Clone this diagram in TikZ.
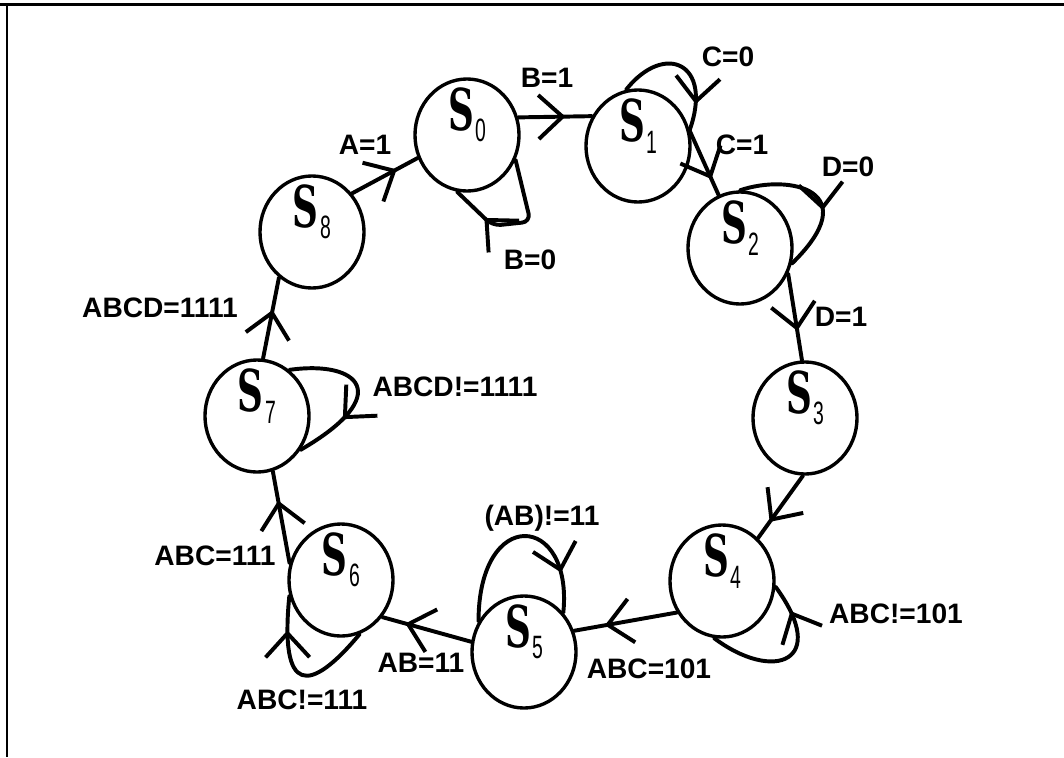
\documentclass[tikz,border=0pt]{standalone}
\usepackage{fontspec}
\usepackage{graphicx}
\newfontfamily\lblfont{Liberation Sans}
\newfontfamily\snfont{DejaVu Serif}
\usetikzlibrary{arrows.meta,decorations.markings,shapes.geometric}
\newcommand{\sname}[1]{{\snfont\bfseries\fontsize{41}{41}\selectfont\scalebox{0.62}[1]{S}}\kern1pt\raisebox{-8pt}{\lblfont\fontsize{23}{23}\selectfont\scalebox{0.6}[1]{#1}}}

\begin{document}
\begin{tikzpicture}[x=0.025cm,y=-0.025cm,
  state/.style={draw,ellipse,line width=2.4pt,minimum width=2.6cm,minimum height=2.8cm,inner sep=0pt},
  slbl/.style={yshift=0.5cm,inner sep=0pt},
  lbl/.style={font=\lblfont\bfseries\fontsize{20}{20}\selectfont,inner sep=0pt},
  tr/.style={line width=2.8pt,line cap=round,line join=round,postaction={decorate},
    decoration={markings,mark=at position #1 with {\arrow{Straight Barb[length=0.6cm,width=1.1cm]}}}}]
      \useasboundingbox (0,0) rectangle (1064,757);
      \draw[line width=1.8pt] (0,4.5) -- (1064,4.5);
      \draw[line width=1.8pt] (7,4.5) -- (7,757);
      % states
      \node[state,label={[slbl]center:\sname{0}}] (s0) at (467,135) {};
      \node[state,label={[slbl]center:\sname{1}}] (s1) at (638,146) {};
      \node[state,label={[slbl]center:\sname{2}}] (s2) at (740,248) {};
      \node[state,label={[slbl]center:\sname{3}}] (s3) at (805,418) {};
      \node[state,label={[slbl]center:\sname{4}}] (s4) at (722,581) {};
      \node[state,label={[slbl]center:\sname{5}}] (s5) at (524,652) {};
      \node[state,label={[slbl]center:\sname{6}}] (s6) at (341,580) {};
      \node[state,label={[slbl]center:\sname{7}}] (s7) at (257,416) {};
      \node[state,label={[slbl]center:\sname{8}}] (s8) at (312,232) {};
      % transitions
      \draw[tr=0.68] (s8.44) -- (s0.205);
      \draw[tr=0.64] (s0.19) -- (s1.147);
      \draw[tr=0.75] (s1.16) -- (s2.112);
      \draw[tr=0.66] (s2.332) -- (s3.93);
      \draw[tr=0.74] (s3.268) -- (s4.50);
      \draw[tr=0.7]  (s4.215) -- (s5.23);
      \draw[tr=0.74] (s5.169) -- (s6.318);
      \draw[tr=0.68] (s6.162) -- (s7.286);
      \draw[tr=0.6]  (s7.84) -- (s8.234);
      % self loops
      \draw[tr=0.74,rounded corners=6pt] (s0.333) -- ++(15,62) -- ++(-38,4) -- (s0.260);
      \draw[tr=0.8]  (s1.102) .. controls +(38,-48) and +(24,-68) .. (s1.17);
      \draw[tr=0.6]  (s2.90) .. controls +(50,-17) and +(75,-73) .. (s2.343);
      \draw[tr=0.82] (s4.262) .. controls +(60,45) and +(55,75) .. (s4.354);
      \draw[tr=0.8]  (s5.146) .. controls +(0,-116) and +(10,-100) .. (s5.45);
      \draw[tr=0.78] (s6.289) .. controls +(-50,60) and +(-10,100) .. (s6.197);
      \draw[tr=0.68] (s7.55) .. controls +(70,-10) and +(95,-55) .. (s7.322);
      % conditions
      \node[lbl] (tA1)   at (365,145) {A=1};
      \node[lbl] (tB1)   at (547,78)  {B=1};
      \node[lbl] (tB0)   at (530,260) {B=0};
      \node[lbl] (tC0)   at (728,57)  {C=0};
      \node[lbl] (tC1)   at (742,145) {C=1};
      \node[lbl] (tD0)   at (848,167) {D=0};
      \node[lbl] (tD1)   at (841,317) {D=1};
      \node[lbl] (tn101) at (896,614) {ABC!=101};
      \node[lbl] (t101)  at (649,669) {ABC=101};
      \node[lbl] (tn11)  at (542,518) {(AB)!=11};
      \node[lbl] (t11)   at (421,663) {AB=11};
      \node[lbl] (tn111) at (302,700) {ABC!=111};
      \node[lbl] (t111)  at (215,556) {ABC=111};
      \node[lbl] (tn1111) at (455,387) {ABCD!=1111};
      \node[lbl] (t1111) at (160,308) {ABCD=1111};
     \end{tikzpicture}
\end{document}
